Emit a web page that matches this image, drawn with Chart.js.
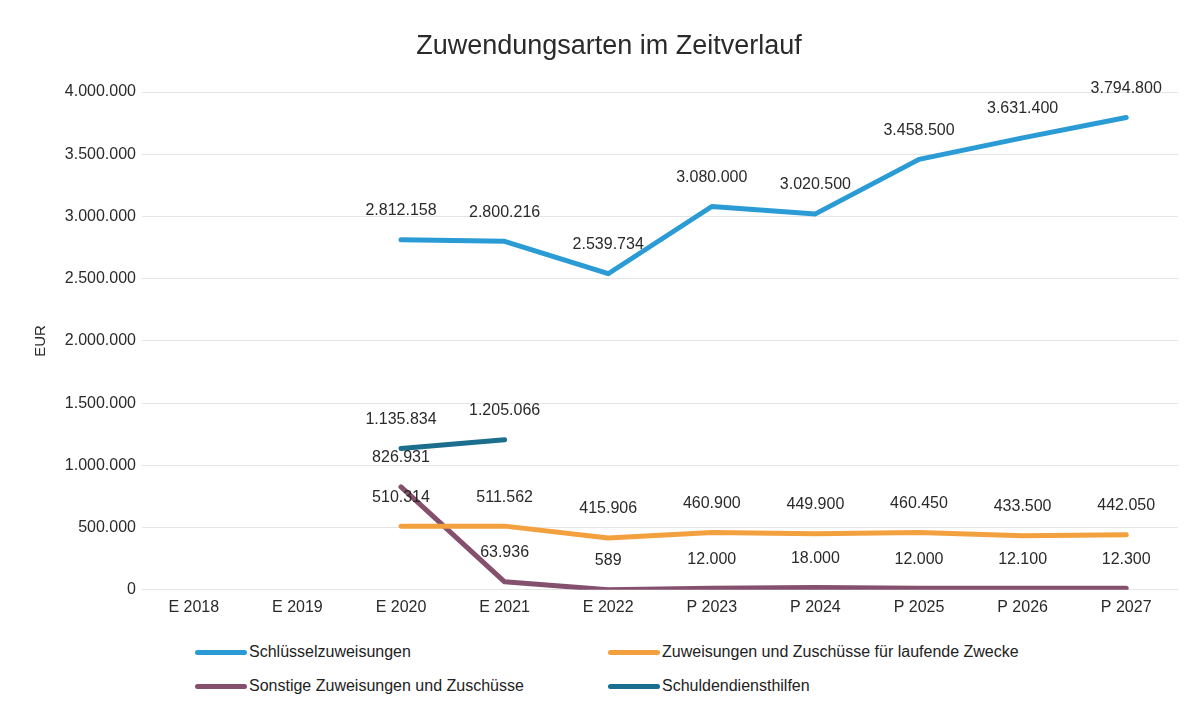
<!DOCTYPE html>
<html>
<head>
<meta charset="utf-8">
<script src="https://cdn.jsdelivr.net/npm/chart.js@4"></script>
<style>
  html, body { margin: 0; padding: 0; background: #fff; }
  body { width: 1198px; height: 712px; overflow: hidden; font-family: 'Liberation Sans', Arial, sans-serif; position: relative; }
  #title { position: absolute; left: 0; width: 1218px; top: 29px; text-align: center; font-size: 27px; color: #2a2a2a; line-height: 32px; }
  #wrap { position: relative; width: 1198px; height: 625px; }
  #legend { position: absolute; left: 0; top: 636px; width: 1198px; height: 76px; }
  .item { position: absolute; display: flex; align-items: center; font-size: 16px; color: #222; }
  .item .mark { width: 52px; height: 5px; border-radius: 3px; margin-right: 2px; }
</style>
</head>
<body>
<div id="wrap"><canvas id="chartZuwendungen"></canvas></div>
<div id="title">Zuwendungsarten im Zeitverlauf</div>
<div id="legend"></div>
<script>
// ── Daten ──────────────────────────────────────────────────
const years = ['E 2018', 'E 2019', 'E 2020', 'E 2021', 'E 2022', 'P 2023', 'P 2024', 'P 2025', 'P 2026', 'P 2027'];
const schluesselzuweisungen = [null, null, 2812158, 2800216, 2539734, 3080000, 3020500, 3458500, 3631400, 3794800];
const laufendeZwecke = [null, null, 510314, 511562, 415906, 460900, 449900, 460450, 433500, 442050];
const sonstige = [null, null, 826931, 63936, 589, 12000, 18000, 12000, 12100, 12300];
const schuldendiensthilfen = [null, null, 1135834, 1205066, null, null, null, null, null, null];
const yTicks = { min: 0, max: 4000000, step: 500000 };

const series = [
  { label: 'Schlüsselzuweisungen', data: schluesselzuweisungen, color: '#2b9bd6' },
  { label: 'Zuweisungen und Zuschüsse für laufende Zwecke', data: laufendeZwecke, color: '#f3a03e' },
  { label: 'Sonstige Zuweisungen und Zuschüsse', data: sonstige, color: '#85506d' },
  { label: 'Schuldendiensthilfen', data: schuldendiensthilfen, color: '#1b6e8e' }
];

const fmt = (v) => String(Math.round(v)).replace(/\B(?=(\d{3})+(?!\d))/g, '.');

// ── Datenbeschriftungen über den Punkten ─────────────────────
const valueLabels = {
  id: 'valueLabels',
  afterDatasetsDraw(chart) {
    const ctx = chart.ctx;
    ctx.save();
    ctx.font = "16px 'Liberation Sans', Arial, sans-serif";
    ctx.fillStyle = '#2a2a2a';
    ctx.textAlign = 'center';
    ctx.textBaseline = 'middle';
    chart.data.datasets.forEach((ds, i) => {
      const meta = chart.getDatasetMeta(i);
      meta.data.forEach((pt, j) => {
        const v = ds.data[j];
        if (v === null || v === undefined) return;
        ctx.fillText(fmt(v), pt.x, pt.y - 29);
      });
    });
    ctx.restore();
  }
};

Chart.defaults.font.family = "'Liberation Sans', Arial, sans-serif";
Chart.defaults.color = '#2a2a2a';

new Chart(document.getElementById('chartZuwendungen'), {
  type: 'line',
  data: {
    labels: years,
    datasets: series.map(s => ({
      label: s.label,
      data: s.data,
      borderColor: s.color,
      backgroundColor: s.color,
      borderWidth: 5,
      borderCapStyle: 'round',
      borderJoinStyle: 'round',
      pointRadius: 0,
      pointHoverRadius: 0,
      tension: 0,
      spanGaps: false
    }))
  },
  options: {
    responsive: true,
    maintainAspectRatio: false,
    animation: false,
    layout: { padding: { top: 92, right: 20, bottom: 0, left: 32 } },
    scales: {
      x: {
        offset: true,
        grid: { display: false, drawTicks: false },
        border: { display: false },
        ticks: { font: { size: 16 }, color: '#2a2a2a', padding: 8 }
      },
      y: {
        min: yTicks.min,
        max: yTicks.max,
        afterFit: (s) => { s.width = 110; },
        ticks: { stepSize: yTicks.step, font: { size: 16 }, color: '#2a2a2a', padding: 6, callback: (v) => fmt(v) },
        grid: { color: '#e4e4e4', lineWidth: 1, drawTicks: false },
        border: { display: false },
        title: { display: true, text: 'EUR', font: { size: 15 }, color: '#2a2a2a', padding: { top: 0, bottom: 4 } }
      }
    },
    plugins: {
      legend: { display: false },
      tooltip: { enabled: false },
      title: { display: false }
    }
  },
  plugins: [valueLabels]
});

// ── Legende (zwei Spalten) ──────────────────────────────────
const legendPos = [[195, 7], [608, 7], [195, 41], [608, 41]];
const legendEl = document.getElementById('legend');
series.forEach((s, i) => {
  const el = document.createElement('div');
  el.className = 'item';
  el.style.left = legendPos[i][0] + 'px';
  el.style.top = legendPos[i][1] + 'px';
  el.innerHTML = `<span class="mark" style="background:${s.color}"></span><span>${s.label}</span>`;
  legendEl.appendChild(el);
});
</script>
</body>
</html>
